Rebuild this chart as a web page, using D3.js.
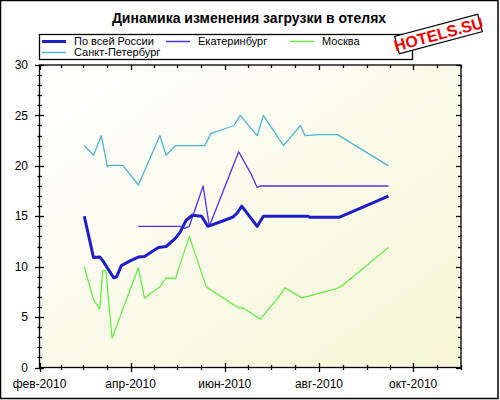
<!DOCTYPE html>
<html>
<head>
<meta charset="utf-8">
<script src="https://cdn.jsdelivr.net/npm/d3@7"></script>
<style>
html,body{margin:0;padding:0;background:#fff;}
svg{display:block;font-family:"Liberation Sans",Arial,sans-serif;}
</style>
</head>
<body>
<svg id="chart" width="500" height="400"></svg>
<script>
// ---- data ----
const title = "Динамика изменения загрузки в отелях";
const seriesNames = ["По всей России", "Екатеринбург", "Москва", "Санкт-Петербург"];
const seriesColors = ["#1e1ec8", "#5030ee", "#66ee44", "#4cb4d2"];
const seriesWidths = [3, 1.3, 1.3, 1.3];

const russiaDates = ["2010-03-02","2010-03-08","2010-03-12","2010-03-14","2010-03-21","2010-03-23","2010-03-26","2010-04-01","2010-04-06","2010-04-10","2010-04-19","2010-04-24","2010-04-30","2010-05-03","2010-05-07","2010-05-11","2010-05-17","2010-05-21","2010-05-23","2010-06-06","2010-06-09","2010-06-12","2010-06-22","2010-06-26","2010-07-25","2010-07-26","2010-08-14","2010-09-15"];
const russiaValues = [15.0, 10.9, 10.95, 10.6, 8.9, 9.0, 10.1, 10.6, 10.95, 11.0, 11.9, 12.0, 12.8, 13.4, 14.6, 15.1, 15.0, 14.0, 14.1, 14.9, 15.3, 16.0, 14.0, 15.0, 15.0, 14.9, 14.9, 17.0];

const ekbDates = ["2010-04-06","2010-05-03","2010-05-06","2010-05-09","2010-05-18","2010-05-22","2010-06-10","2010-06-18","2010-06-22","2010-06-24","2010-09-15"];
const ekbValues = [14.0, 14.0, 13.8, 14.0, 18.0, 14.0, 21.4, 19.2, 17.85, 18.0, 18.0];

const mskDates = ["2010-03-02","2010-03-08","2010-03-12","2010-03-14","2010-03-16","2010-03-20","2010-04-06","2010-04-10","2010-04-20","2010-04-24","2010-04-30","2010-05-09","2010-05-20","2010-06-10","2010-06-13","2010-06-24","2010-07-06","2010-07-10","2010-07-21","2010-08-12","2010-08-16","2010-09-15"];
const mskValues = [10.0, 6.7, 5.8, 9.6, 9.6, 2.9, 9.9, 6.9, 8.0, 8.9, 8.8, 13.0, 8.0, 5.9, 5.9, 4.8, 7.0, 7.9, 6.9, 7.8, 8.1, 11.9];

const spbDates = ["2010-03-02","2010-03-08","2010-03-13","2010-03-17","2010-03-18","2010-03-27","2010-04-06","2010-04-20","2010-04-24","2010-04-30","2010-05-19","2010-05-23","2010-06-07","2010-06-11","2010-06-22","2010-06-26","2010-07-09","2010-07-20","2010-07-23","2010-07-31","2010-08-13","2010-09-15"];
const spbValues = [22.0, 21.05, 23.0, 19.9, 20.05, 20.05, 18.1, 23.0, 21.05, 22.0, 22.0, 23.2, 24.0, 25.0, 23.0, 25.0, 22.0, 24.0, 23.0, 23.1, 23.1, 20.0];

const xMajorTicks = ["2010-02-01","2010-04-01","2010-06-01","2010-08-01","2010-10-01"];
const xTickLabels = ["фев-2010","апр-2010","июн-2010","авг-2010","окт-2010"];
const yMajorTicks = [0, 5, 10, 15, 20, 25, 30];
const stampText = "HOTELS.SU";

// ---- setup ----
const parse = d3.timeParse("%Y-%m-%d");
const svg = d3.select("#chart");
const L = 39.5, R = 461, T = 65, B = 367.5;

const x = d3.scaleTime().domain([parse("2010-02-01"), parse("2010-11-01")]).range([L, R]);
const y = d3.scaleLinear().domain([0, 30]).range([B, T]);

// background gradient
const defs = svg.append("defs");
const grad = defs.append("linearGradient").attr("id","bg").attr("x1","0").attr("y1","0").attr("x2","1").attr("y2","1");
grad.append("stop").attr("offset","0").attr("stop-color","#ffffff");
grad.append("stop").attr("offset","1").attr("stop-color","#f6f6d6");

svg.append("rect").attr("x",0).attr("y",0).attr("width",500).attr("height",400).attr("fill","#fff");
svg.append("rect").attr("x",L).attr("y",T).attr("width",R-L).attr("height",B-T).attr("fill","url(#bg)");

// title
svg.append("text").attr("x",249).attr("y",23).attr("text-anchor","middle")
  .attr("font-size","14px").attr("font-weight","bold").attr("fill","#000").text(title);

// series
const series = [
  {dates: russiaDates, values: russiaValues},
  {dates: ekbDates, values: ekbValues},
  {dates: mskDates, values: mskValues},
  {dates: spbDates, values: spbValues}
];
const line = d3.line().x(d => x(d[0])).y(d => y(d[1])).curve(d3.curveLinear);
const drawOrder = [3, 2, 1, 0];
drawOrder.forEach(i => {
  const s = series[i];
  const pts = s.dates.map((d, k) => [parse(d), s.values[k]]);
  svg.append("path").attr("d", line(pts)).attr("fill","none")
    .attr("stroke", seriesColors[i]).attr("stroke-width", seriesWidths[i])
    .attr("stroke-linejoin","round");
});

// frame
svg.append("rect").attr("x",L).attr("y",T).attr("width",R-L).attr("height",B-T)
  .attr("fill","none").attr("stroke","#000").attr("stroke-width",1.3);

// x ticks
const majorX = xMajorTicks.map(parse);
const monthStarts = d3.timeMonth.range(parse("2010-02-01"), parse("2010-11-02"));
const minorX = [];
for (let i = 0; i < monthStarts.length; i++) {
  minorX.push(monthStarts[i]);
  if (i < monthStarts.length - 1) minorX.push(new Date((monthStarts[i].getTime() + monthStarts[i+1].getTime())/2));
}
const tg = svg.append("g").attr("stroke","#000").attr("stroke-width",1.3);
minorX.forEach(d => {
  const isMajor = majorX.some(m => +m === +d);
  const px = Math.round(x(d)) + 0.5;
  tg.append("line").attr("x1",px).attr("x2",px).attr("y1",isMajor?363:365).attr("y2",isMajor?372:370);
  tg.append("line").attr("x1",px).attr("x2",px).attr("y1",T).attr("y2",T+(isMajor?5:3));
});
majorX.forEach((d,i) => {
  svg.append("text").attr("x",x(d)).attr("y",388).attr("text-anchor","middle")
    .attr("font-size","12px").attr("fill","#000").text(xTickLabels[i]);
});

// y ticks
d3.range(0, 31, 1).forEach(v => {
  const isMajor = v % 5 === 0;
  const py = Math.round(y(v)) + 0.5;
  tg.append("line").attr("x1",isMajor?35:37.5).attr("x2",isMajor?44:42).attr("y1",py).attr("y2",py);
  tg.append("line").attr("x1",isMajor?456:458).attr("x2",R).attr("y1",py).attr("y2",py);
});
yMajorTicks.forEach(v => {
  svg.append("text").attr("x",28).attr("y",y(v)).attr("dy","0.35em").attr("text-anchor","end")
    .attr("font-size","12px").attr("fill","#000").text(v);
});

// legend
const lg = svg.append("g");
lg.append("rect").attr("x",39.5).attr("y",34.5).attr("width",373).attr("height",25)
  .attr("fill","#fff").attr("stroke","#000").attr("stroke-width",1.3);
const legendPos = [[42,41.5],[166,41.5],[290,41.5],[42,52.5]];
seriesNames.forEach((n,i) => {
  const [lx, ly] = legendPos[i];
  lg.append("line").attr("x1",lx).attr("x2",lx+24).attr("y1",ly).attr("y2",ly)
    .attr("stroke",seriesColors[i]).attr("stroke-width",i===0?3:1.5);
  lg.append("text").attr("x",lx+32).attr("y",ly).attr("dy","0.35em")
    .attr("font-size","11px").attr("fill","#000").text(n);
});

// stamp
const st = svg.append("g").attr("transform","translate(438.5,34) rotate(-15)");
st.append("rect").attr("x",-43).attr("y",-9).attr("width",86).attr("height",18)
  .attr("fill","#fff").attr("stroke","#000").attr("stroke-width",1.2);
st.append("text").attr("x",0).attr("y",0).attr("dy","0.36em").attr("text-anchor","middle")
  .attr("font-size","16px").attr("font-weight","bold").attr("fill","#ee0000").text(stampText);

// outer border
svg.append("rect").attr("x",0.5).attr("y",0.5).attr("width",497.5).attr("height",398)
  .attr("fill","none").attr("stroke","#000").attr("stroke-width",1.5);
</script>
</body>
</html>
